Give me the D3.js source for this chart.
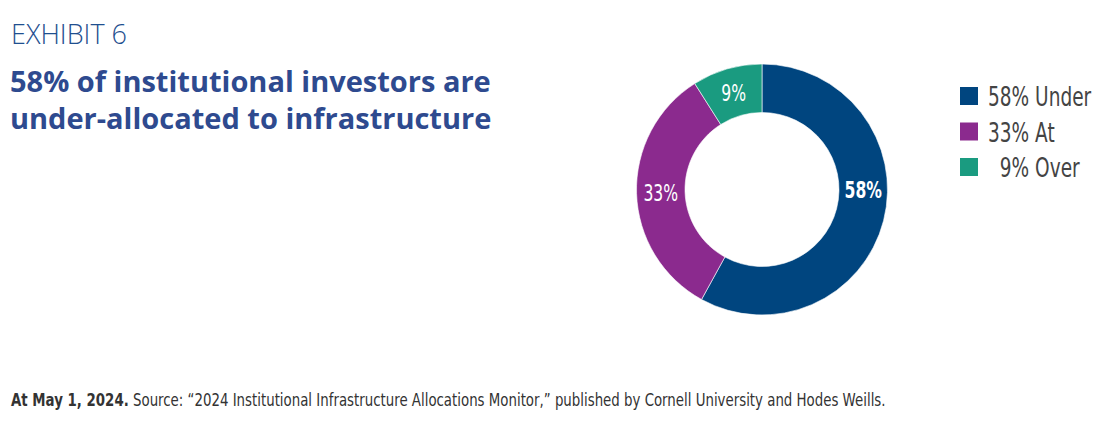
<!DOCTYPE html>
<html>
<head>
<meta charset="utf-8">
<script src="https://cdn.jsdelivr.net/npm/d3@7"></script>
<style>
  body { margin: 0; background: #fff; }
  svg { display: block; }
</style>
</head>
<body>
<div id="container"></div>
<script>
// data
const categories = ["Under", "At", "Over"];
const shares     = [58, 33, 9];
const colors     = ["#00457f", "#8b2a8e", "#1a9b80"];
const legendText = ["58% Under", "33% At", "  9% Over"];

const width  = 1103;
const height = 432;
// no condensed face installed, so squeeze horizontally
const narrow = "'DejaVu Sans', sans-serif";
const squeeze = 0.68;

const svg = d3.select("#container")
  .append("svg")
    .attr("width", width)
    .attr("height", height);

// header
svg.append("text")
  .attr("x", 11)
  .attr("y", 44)
  .attr("font-family", "'Open Sans', sans-serif")
  .attr("font-weight", 300)
  .attr("font-size", 27)
  .attr("fill", "#1f4f8f")
  .text("EXHIBIT 6");

const title = svg.append("text")
  .attr("font-family", "'Open Sans', sans-serif")
  .attr("font-weight", 700)
  .attr("font-size", 29)
  .attr("fill", "#2e4a8f");
title.append("tspan").attr("x", 10).attr("y", 92).text("58% of institutional investors are");
title.append("tspan").attr("x", 10).attr("y", 129).text("under-allocated to infrastructure");

// donut
const cx = 762, cy = 189.5;
const outerR = 125.5, innerR = 77;
const midR = (innerR + outerR) / 2;

const pie = d3.pie().sort(null).value(d => d);
const arcs = pie(shares);
const arc = d3.arc().innerRadius(innerR).outerRadius(outerR);

const g = svg.append("g").attr("transform", `translate(${cx},${cy})`);

g.selectAll("path")
  .data(arcs)
  .join("path")
    .attr("d", arc)
    .attr("fill", (d, i) => colors[i])
    .attr("stroke", "#fff")
    .attr("stroke-width", 0.6);

// slice labels; the big slice label sits level with the centre
const labelAngle = (d, i) => i === 0 ? Math.PI / 2 : (d.startAngle + d.endAngle) / 2;
g.selectAll("text.val")
  .data(arcs)
  .join("text")
    .attr("class", "val")
    .attr("transform", (d, i) => {
      const a = labelAngle(d, i);
      return `translate(${midR * Math.sin(a)},${-midR * Math.cos(a)}) scale(${squeeze},1)`;
    })
    .attr("text-anchor", "middle")
    .attr("dy", "0.36em")
    .attr("font-family", narrow)
    .attr("font-size", 23)
    .attr("font-weight", (d, i) => i === 0 ? 700 : 400)
    .attr("fill", "#fff")
    .text(d => d.data + "%");

// legend
const legend = svg.append("g").attr("transform", "translate(960,87)");
const rows = legend.selectAll("g")
  .data(categories)
  .join("g")
    .attr("transform", (d, i) => `translate(0,${i * 35.5})`);

rows.append("rect")
  .attr("width", 18)
  .attr("height", 18)
  .attr("fill", (d, i) => colors[i]);

rows.append("text")
  .attr("transform", `translate(28,19) scale(0.7,1)`)
  .attr("font-family", narrow)
  .attr("font-size", 26.5)
  .attr("fill", "#444")
  .style("white-space", "pre")
  .text((d, i) => legendText[i]);

// footnote
const note = svg.append("text")
  .attr("transform", `translate(11,406) scale(0.786,1)`)
  .attr("font-family", narrow)
  .attr("font-size", 17)
  .attr("fill", "#333");
note.append("tspan").attr("font-weight", 700).text("At May 1, 2024.");
note.append("tspan").text(" Source: \u201c2024 Institutional Infrastructure Allocations Monitor,\u201d published by Cornell University and Hodes Weills.");
</script>
</body>
</html>
